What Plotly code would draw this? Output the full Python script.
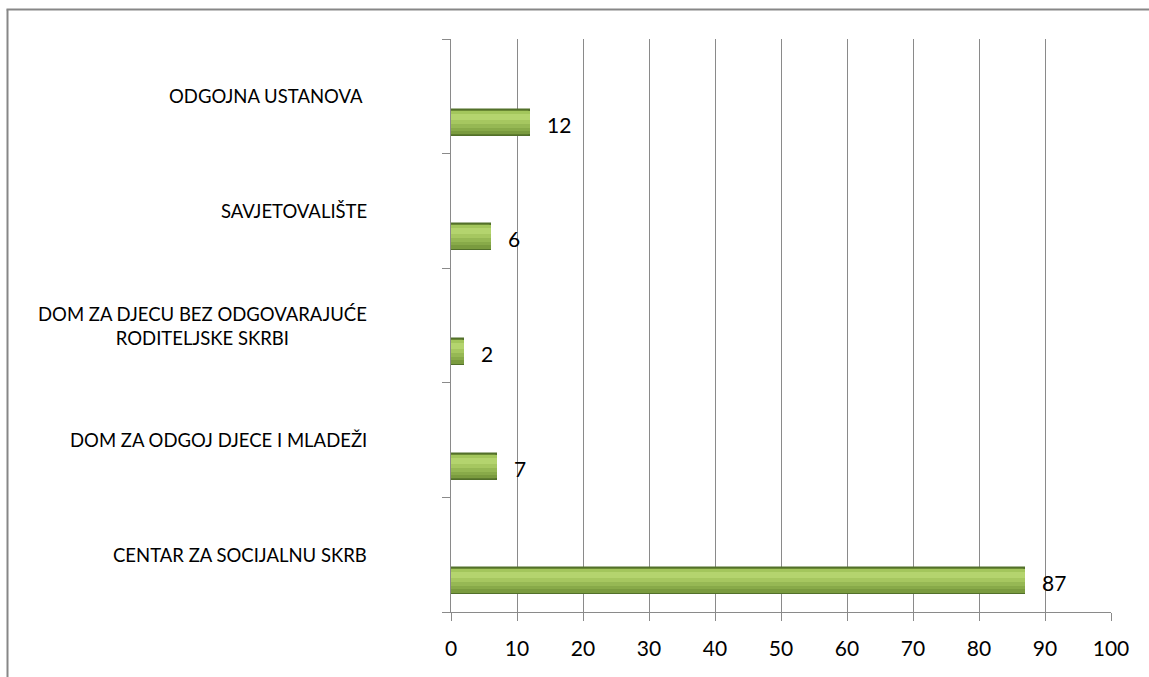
import plotly.graph_objects as go

# Data (bottom to top, as in the chart)
categories = [
    "CENTAR ZA SOCIJALNU SKRB",
    "DOM ZA ODGOJ DJECE I MLADEŽI",
    "DOM ZA DJECU BEZ ODGOVARAJUĆE<br>RODITELJSKE SKRBI",
    "SAVJETOVALIŠTE",
    "ODGOJNA USTANOVA\u00a0",
]
values = [87, 7, 2, 6, 12]
x_ticks = [0, 10, 20, 30, 40, 50, 60, 70, 80, 90, 100]

W, H = 1149, 677
L, R, T, B = 451, 1111, 39, 612
pw, ph = R - L, B - T
band_px = ph / len(categories)
px = 1.0 / band_px  # one pixel in category units

FONT = "Lato"
GRID = "#8a8a8a"

fig = go.Figure()

# bar geometry (in pixels below the top edge of the bar)
bar_top = -0.118
bar_h = 26
# base (dark) bar with outline
fig.add_trace(go.Bar(
    x=values, y=categories, orientation="h",
    offset=bar_top - bar_h * px, width=bar_h * px,
    marker=dict(color="#6a8934", line=dict(color="#52702a", width=1.5)),
    hovertemplate="%{y}: %{x}<extra></extra>", showlegend=False,
))
# gradient bands: (top_px, bottom_px, colour)
bands = [
    (1.0, 4, "#a3c65c"),
    (4, 10, "#b4d46e"),
    (10, 14, "#a6c760"),
    (14, 18, "#96b854"),
    (18, 21, "#88aa49"),
    (21, 24.5, "#7a9b3f"),
]
for top_px, bot_px, col in bands:
    fig.add_trace(go.Bar(
        x=values, y=categories, orientation="h",
        offset=bar_top - bot_px * px, width=(bot_px - top_px) * px,
        marker=dict(color=col, line=dict(width=0)),
        hoverinfo="skip", showlegend=False,
    ))

annotations = []
# category labels
for c in categories:
    annotations.append(dict(
        x=(369 - L) / pw, xref="paper", y=c, yref="y",
        text=c, showarrow=False, xanchor="right", yanchor="middle",
        align="center", font=dict(family=FONT, size=18.5, color="#000000"),
    ))
# value labels
for c, v in zip(categories, values):
    annotations.append(dict(
        x=v, xref="x", y=c, yref="y",
        text=str(v), showarrow=False, xanchor="left", yanchor="middle",
        xshift=15, yshift=-28,
        font=dict(family=FONT, size=21, color="#000000"),
    ))

fig.update_layout(
    width=W, height=H,
    margin=dict(l=L, r=W - R, t=T, b=H - B, pad=0),
    paper_bgcolor="white", plot_bgcolor="white",
    barmode="overlay",
    bargap=0,
    showlegend=False,
    annotations=annotations,
    xaxis=dict(
        range=[0, 100], tickvals=x_ticks, ticktext=[str(t) for t in x_ticks],
        showgrid=True, gridcolor=GRID, gridwidth=1,
        showline=True, linecolor=GRID, linewidth=1,
        ticks="outside", ticklen=8, tickcolor=GRID, tickwidth=1,
        tickfont=dict(family=FONT, size=21, color="#000000"),
        zeroline=False, fixedrange=True, ticklabelstandoff=10,
    ),
    yaxis=dict(
        type="category", categoryorder="array", categoryarray=categories,
        range=[-0.5, len(categories) - 0.5],
        showticklabels=False, showgrid=False,
        showline=True, linecolor=GRID, linewidth=1,
        ticks="outside", ticklen=8, tickcolor=GRID, tickwidth=1,
        tickson="boundaries", zeroline=False, fixedrange=True,
    ),
    shapes=[
        dict(type="line", xref="paper", yref="paper",
             x0=(7.5 - L) / pw, x1=(7.5 - L) / pw,
             y0=(B - 9.5) / ph, y1=(B - 700) / ph,
             line=dict(color="#878787", width=2)),
        dict(type="line", xref="paper", yref="paper",
             x0=(6.5 - L) / pw, x1=(1160 - L) / pw,
             y0=(B - 9.5) / ph, y1=(B - 9.5) / ph,
             line=dict(color="#878787", width=2)),
    ],
)

fig.write_html(
    "out.html",
    config={"displayModeBar": False},
    post_script="document.body.style.margin='0px';document.body.style.overflow='hidden';",
)
